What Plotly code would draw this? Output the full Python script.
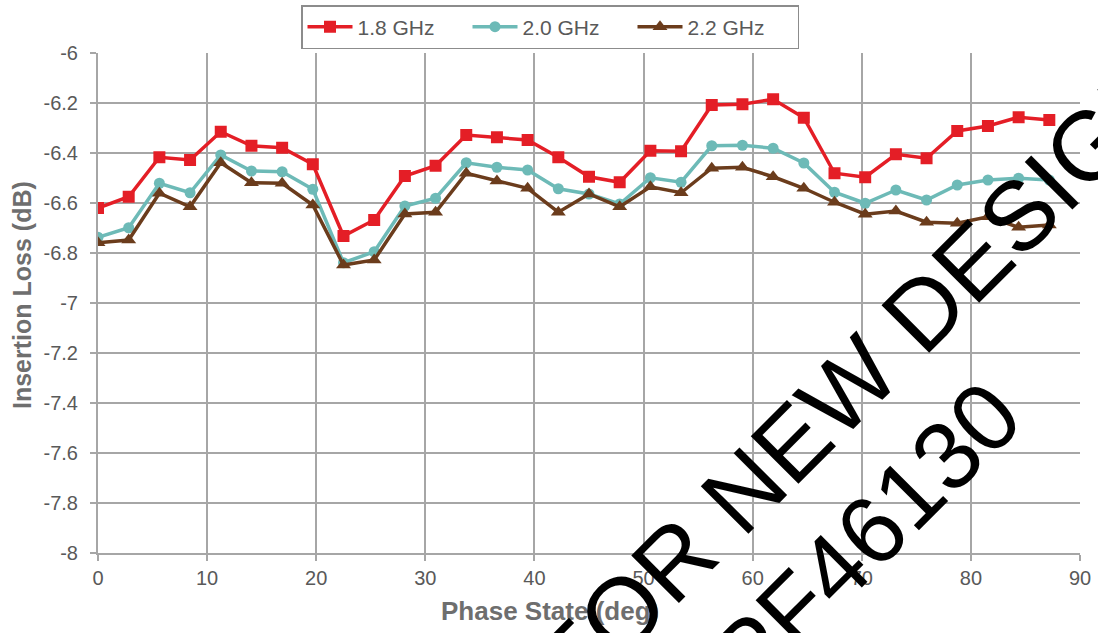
import plotly.graph_objects as go

# Phase states (deg)
phase = [0, 2.8125, 5.625, 8.4375, 11.25, 14.0625, 16.875, 19.6875, 22.5, 25.3125,
         28.125, 30.9375, 33.75, 36.5625, 39.375, 42.1875, 45, 47.8125, 50.625, 53.4375,
         56.25, 59.0625, 61.875, 64.6875, 67.5, 70.3125, 73.125, 75.9375, 78.75, 81.5625,
         84.375, 87.1875]

# Insertion loss (dB)
il_18 = [-6.620, -6.575, -6.417, -6.428, -6.315, -6.371, -6.379, -6.445, -6.732, -6.668,
         -6.492, -6.451, -6.328, -6.337, -6.348, -6.417, -6.495, -6.517, -6.391, -6.393,
         -6.208, -6.205, -6.185, -6.259, -6.481, -6.497, -6.405, -6.421, -6.312, -6.292,
         -6.257, -6.268]
il_20 = [-6.737, -6.699, -6.521, -6.559, -6.408, -6.472, -6.475, -6.545, -6.839, -6.795,
         -6.612, -6.581, -6.439, -6.457, -6.468, -6.543, -6.564, -6.604, -6.499, -6.517,
         -6.371, -6.369, -6.381, -6.440, -6.557, -6.601, -6.548, -6.588, -6.528, -6.508,
         -6.501, -6.508]
il_22 = [-6.759, -6.748, -6.561, -6.615, -6.439, -6.519, -6.521, -6.608, -6.848, -6.828,
         -6.644, -6.637, -6.481, -6.512, -6.541, -6.637, -6.564, -6.615, -6.535, -6.559,
         -6.461, -6.457, -6.495, -6.541, -6.597, -6.645, -6.632, -6.677, -6.681, -6.655,
         -6.697, -6.688]

series_names = ["1.8 GHz", "2.0 GHz", "2.2 GHz"]

x_tickvals = [0, 10, 20, 30, 40, 50, 60, 70, 80, 90]
x_ticktext = ["0", "10", "20", "30", "40", "50", "60", "70", "80", "90"]
y_tickvals = [-6, -6.2, -6.4, -6.6, -6.8, -7, -7.2, -7.4, -7.6, -7.8, -8]
y_ticktext = ["-6", "-6.2", "-6.4", "-6.6", "-6.8", "-7", "-7.2", "-7.4", "-7.6", "-7.8", "-8"]

x_title = "Phase State (deg)"
y_title = "Insertion Loss (dB)"
watermark_1 = "NOT FOR NEW DESIGN"
watermark_2 = "RFPF46130"

styles = [
    dict(color="#E41E26", symbol="square", size=12),
    dict(color="#6DBAB7", symbol="circle", size=11),
    dict(color="#6B3C1C", symbol="triangle-up", size=13),
]

fig = go.Figure()
for name, vals, st in zip(series_names, [il_18, il_20, il_22], styles):
    fig.add_trace(go.Scatter(
        x=phase, y=vals, mode="lines+markers", name=name,
        line=dict(color=st["color"], width=3.5),
        marker=dict(symbol=st["symbol"], size=st["size"], color=st["color"]),
    ))

grid = "#A6A6A6"
axis_common = dict(
    showgrid=True, gridcolor=grid, gridwidth=1.5,
    showline=True, linecolor=grid, linewidth=2,
    ticks="outside", ticklen=6, tickcolor=grid, tickwidth=1.5,
    zeroline=False, tickfont=dict(size=20, color="#595959"),
)

fig.update_layout(
    width=1098, height=633,
    margin=dict(l=98, r=18, t=53, b=80, autoexpand=False),
    paper_bgcolor="white", plot_bgcolor="white",
    font=dict(family="Liberation Sans, Arial, sans-serif", size=20, color="#595959"),
    xaxis=dict(range=[0, 90], tickvals=x_tickvals, ticktext=x_ticktext, **axis_common),
    yaxis=dict(range=[-8, -6], tickvals=y_tickvals, ticktext=y_ticktext,
               ticklabelstandoff=8, **axis_common),
    showlegend=True,
    legend=dict(
        orientation="h", xref="container", yref="container",
        x=550 / 1098, xanchor="center", y=1 - 5 / 633, yanchor="top",
        bordercolor="#8C8C8C", borderwidth=1.5, bgcolor="white",
        entrywidth=105, entrywidthmode="pixels", itemwidth=45,
        font=dict(size=21, color="#595959"),
    ),
)

annotations = [
    dict(text="<b>%s</b>" % x_title, xref="paper", yref="paper",
         x=(550 - 98) / 982, y=(553 - 611) / 500, xanchor="center", yanchor="middle",
         showarrow=False, font=dict(size=26, color="#6E6E6E")),
    dict(text="<b>%s</b>" % y_title, xref="paper", yref="paper",
         x=(22 - 98) / 982, y=(553 - 295) / 500, xanchor="center", yanchor="middle",
         textangle=-90, showarrow=False, font=dict(size=25, color="#6E6E6E")),
    dict(text=watermark_1, xref="paper", yref="paper",
         x=(777 - 98) / 982, y=(553 - 457) / 500, xanchor="center", yanchor="middle",
         textangle=-45, showarrow=False,
         font=dict(size=98, color="black", family="Liberation Sans, Arial, sans-serif")),
    dict(text=watermark_2, xref="paper", yref="paper",
         x=(820 - 98) / 982, y=(553 - 581) / 500, xanchor="center", yanchor="middle",
         textangle=-45, showarrow=False,
         font=dict(size=96, color="black", family="Liberation Sans, Arial, sans-serif")),
]
fig.update_layout(annotations=annotations)

fig.write_html("out.html", config={"displayModeBar": False},
               post_script="document.body.style.margin='0';")
